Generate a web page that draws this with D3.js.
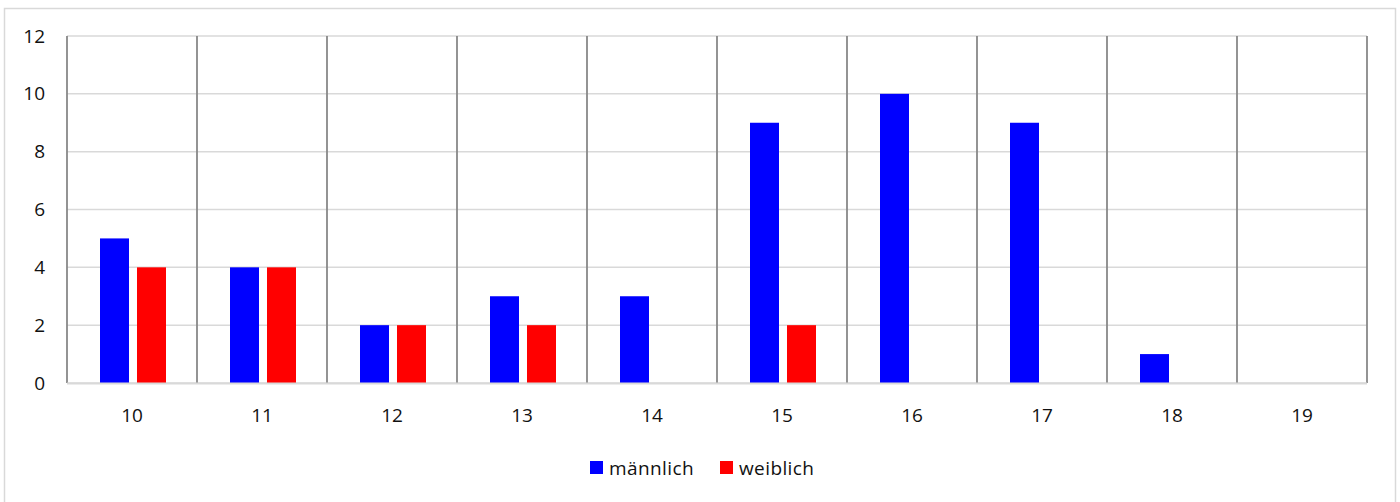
<!DOCTYPE html>
<html>
<head>
<meta charset="utf-8">
<script src="https://cdn.jsdelivr.net/npm/d3@7"></script>
<style>
  body { margin: 0; background: #fff; }
  text { font-family: "Open Sans", "Noto Sans", sans-serif; fill: #111; }
</style>
</head>
<body>
<svg id="chart" width="1400" height="502"></svg>
<script>
// data
var categories = ["10", "11", "12", "13", "14", "15", "16", "17", "18", "19"];
var series = ["männlich", "weiblich"];
var maennlich = [5, 4, 2, 3, 3, 9, 10, 9, 1, 0];
var weiblich = [4, 4, 2, 2, 0, 2, 0, 0, 0, 0];
var yTicks = [0, 2, 4, 6, 8, 10, 12];

var colors = {"männlich": "#0000ff", "weiblich": "#ff0000"};

var margin = { top: 36, left: 67 };
var width = 1300;
var height = 347;

var svg = d3.select("#chart");

// outer frame
svg.append("rect")
    .attr("x", 4.5)
    .attr("y", 8.5)
    .attr("width", 1391)
    .attr("height", 500)
    .attr("fill", "none")
    .attr("stroke", "#d9d9d9")
    .attr("stroke-width", 1.5);

var g = svg.append("g")
    .attr("transform", "translate(" + margin.left + "," + margin.top + ")");

var x0 = d3.scaleBand()
    .domain(categories)
    .range([0, width]);

var x1 = d3.scaleBand()
    .domain(series)
    .range([33, 99])
    .paddingInner(0.216);

var y = d3.scaleLinear()
    .domain([0, 12])
    .range([height, 0]);

// horizontal grid
g.selectAll(".hgrid")
    .data(yTicks)
  .enter().append("line")
    .attr("class", "hgrid")
    .attr("x1", 0)
    .attr("x2", width)
    .attr("y1", function(d) { return y(d); })
    .attr("y2", function(d) { return y(d); })
    .attr("stroke", "#d9d9d9")
    .attr("stroke-width", 1.5);

// vertical separators between categories
var bounds = categories.map(function(c) { return x0(c); }).concat([width]);
g.selectAll(".vgrid")
    .data(bounds)
  .enter().append("line")
    .attr("class", "vgrid")
    .attr("x1", function(d) { return d; })
    .attr("x2", function(d) { return d; })
    .attr("y1", 0)
    .attr("y2", height)
    .attr("stroke", "#888888")
    .attr("stroke-width", 1.8);

// bars
var rows = categories.map(function(c, i) {
  return { cat: c, values: [
    { key: "männlich", value: maennlich[i] },
    { key: "weiblich", value: weiblich[i] }
  ]};
});

var groups = g.selectAll(".grp")
    .data(rows)
  .enter().append("g")
    .attr("class", "grp")
    .attr("transform", function(d) { return "translate(" + x0(d.cat) + ",0)"; });

groups.selectAll("rect")
    .data(function(d) { return d.values.filter(function(v) { return v.value > 0; }); })
  .enter().append("rect")
    .attr("x", function(d) { return x1(d.key); })
    .attr("width", x1.bandwidth())
    .attr("y", function(d) { return y(d.value); })
    .attr("height", function(d) { return height - y(d.value); })
    .attr("fill", function(d) { return colors[d.key]; });

// baseline
g.append("line")
    .attr("x1", 0)
    .attr("x2", width)
    .attr("y1", height + 0.5)
    .attr("y2", height + 0.5)
    .attr("stroke", "#d9d9d9")
    .attr("stroke-width", 2);

// y labels
g.selectAll(".ylab")
    .data(yTicks)
  .enter().append("text")
    .attr("class", "ylab")
    .attr("x", -22)
    .attr("y", function(d) { return y(d); })
    .attr("dy", "0.35em")
    .attr("text-anchor", "end")
    .style("font-size", "19px")
    .text(function(d) { return d; });

// x labels
g.selectAll(".xlab")
    .data(categories)
  .enter().append("text")
    .attr("class", "xlab")
    .attr("x", function(d) { return x0(d) + x0.bandwidth() / 2; })
    .attr("y", height + 32)
    .attr("dy", "0.35em")
    .attr("text-anchor", "middle")
    .style("font-size", "19px")
    .text(function(d) { return d; });

// legend
var legendX = [590, 720];
var legend = svg.selectAll(".leg")
    .data(series)
  .enter().append("g")
    .attr("class", "leg")
    .attr("transform", function(d, i) { return "translate(" + legendX[i] + ",461)"; });

legend.append("rect")
    .attr("width", 13)
    .attr("height", 13)
    .attr("fill", function(d) { return colors[d]; });

legend.append("text")
    .attr("x", 19)
    .attr("y", 7)
    .attr("dy", "0.35em")
    .style("font-size", "19px")
    .style("letter-spacing", "0.4px")
    .text(function(d) { return d; });
</script>
</body>
</html>
